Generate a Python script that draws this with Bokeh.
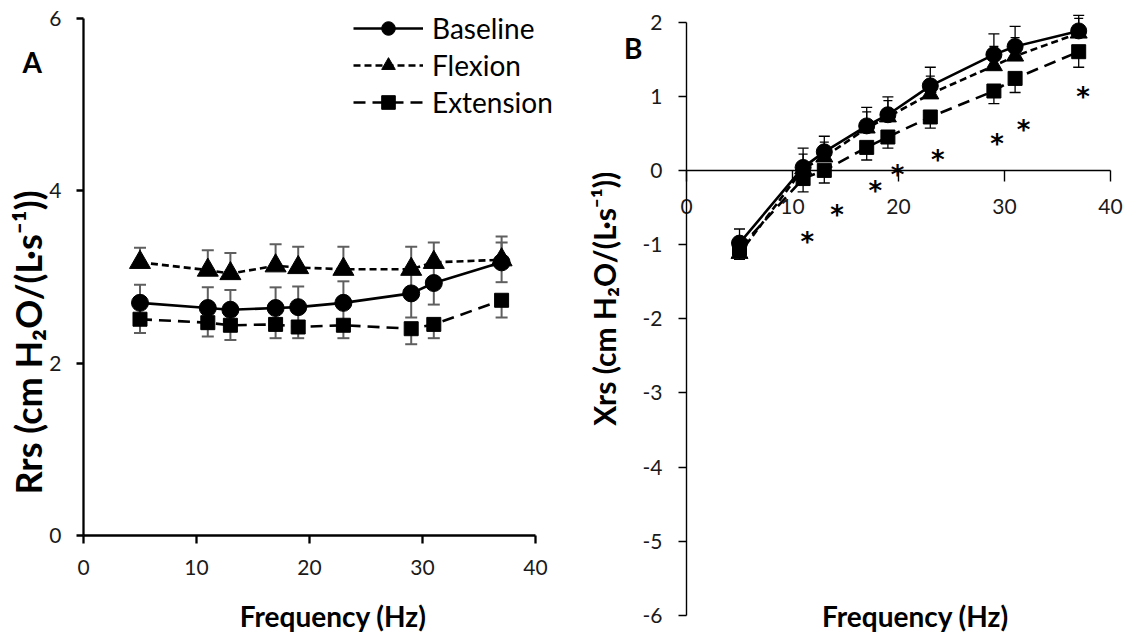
import math
from bokeh.plotting import figure
from bokeh.models import (Range1d, FixedTicker, Whisker, TeeHead, ColumnDataSource,
                          Legend, LegendItem, Label)
from bokeh.layouts import row
from bokeh.core.properties import value
from bokeh.embed import file_html
from bokeh.resources import INLINE

FONT = "Lato"

# ---------------- data ----------------
freq = [5, 11, 13, 17, 19, 23, 29, 31, 37]

# Panel A : Rrs
rrs_baseline = [2.70, 2.64, 2.62, 2.64, 2.65, 2.70, 2.81, 2.93, 3.17]
rrs_baseline_err = [0.21, 0.24, 0.23, 0.24, 0.24, 0.25, 0.28, 0.25, 0.23]
rrs_flexion = [3.17, 3.08, 3.04, 3.13, 3.11, 3.09, 3.09, 3.17, 3.20]
rrs_flexion_err = [0.17, 0.23, 0.24, 0.25, 0.24, 0.26, 0.26, 0.23, 0.27]
rrs_extension = [2.51, 2.47, 2.44, 2.45, 2.42, 2.44, 2.40, 2.45, 2.73]
rrs_extension_err = [0.16, 0.16, 0.17, 0.16, 0.13, 0.15, 0.18, 0.16, 0.20]

# Panel B : Xrs
xrs_baseline = [-0.98, 0.04, 0.25, 0.60, 0.75, 1.14, 1.56, 1.67, 1.88]
xrs_baseline_err = [0.19, 0.26, 0.21, 0.25, 0.24, 0.25, 0.28, 0.27, 0.21]
xrs_flexion = [-1.12, 0.02, 0.18, 0.57, 0.72, 1.03, 1.41, 1.54, 1.85]
xrs_flexion_err = [0.20, 0.20, 0.20, 0.22, 0.22, 0.24, 0.26, 0.25, 0.20]
xrs_extension = [-1.05, -0.11, 0.00, 0.31, 0.45, 0.72, 1.07, 1.24, 1.60]
xrs_extension_err = [0.15, 0.18, 0.17, 0.17, 0.15, 0.15, 0.17, 0.19, 0.21]

# significance asterisks (panel B)
star_x = [11.4, 14.2, 17.8, 19.9, 23.7, 29.3, 31.8, 37.4]
star_y = [-0.90, -0.53, -0.21, 0.01, 0.21, 0.42, 0.61, 1.05]

series_names = ["Baseline", "Flexion", "Extension"]
x_ticks = [0, 10, 20, 30, 40]
rrs_ticks = [0, 2, 4, 6]
xrs_ticks = [-6, -5, -4, -3, -2, -1, 0, 1, 2]

y_label_rrs = "Rrs (cm H\u2082O/(L\u00b7s\u207b\u00b9))"
y_label_xrs = "Xrs (cm H\u2082O/(L\u00b7s\u207b\u00b9))"
x_label = "Frequency (Hz)"

TICK_COLOR = "#1a1a1a"
H = 636


def base_style(p, lw, xb, yb, yticks):
    p.outline_line_color = None
    p.xgrid.visible = False
    p.ygrid.visible = False
    p.background_fill_color = "white"
    p.border_fill_color = "white"
    p.xaxis.ticker = FixedTicker(ticks=x_ticks)
    p.yaxis.ticker = FixedTicker(ticks=yticks)
    p.xaxis.major_label_overrides = {t: str(t) for t in x_ticks}
    p.yaxis.major_label_overrides = {t: str(t) for t in yticks}
    p.xaxis.fixed_location = 0
    p.yaxis.fixed_location = 0
    p.xaxis.bounds = xb
    p.yaxis.bounds = yb
    for ax in (p.xaxis, p.yaxis):
        ax.axis_line_color = "black"
        ax.axis_line_width = lw
        ax.major_tick_line_color = "black"
        ax.major_tick_line_width = lw
        ax.major_tick_in = 0
        ax.minor_tick_line_color = None
        ax.major_label_text_font = FONT
        ax.major_label_text_font_size = "21px"
        ax.major_label_text_color = TICK_COLOR


def whisker(p, x, lo, hi, color, lw, cap, up=True, down=True):
    src = ColumnDataSource(dict(x=x, lo=lo, hi=hi))
    w = Whisker(source=src, base="x", lower="lo", upper="hi", dimension="height",
                line_color=color, line_width=lw,
                upper_head=TeeHead(size=cap, line_color=color, line_width=lw) if up else None,
                lower_head=TeeHead(size=cap, line_color=color, line_width=lw) if down else None)
    p.add_layout(w)


def label(p, x, y, text, size, bold=True, angle=0.0, align="center"):
    p.add_layout(Label(x=x, y=y, text=text, angle=angle, text_align=align,
                       text_baseline="middle", text_font=FONT, text_font_size=size,
                       text_font_style="bold" if bold else "normal", text_color="black"))


# ---------------- Panel A ----------------
pA = figure(width=572, height=H, min_border=0,
            x_range=Range1d(-7.345, 43.274), y_range=Range1d(-1.172, 6.209),
            output_backend="svg", toolbar_location=None)
base_style(pA, 2.3, (0, 40), (0, 6), rrs_ticks)
pA.xaxis.major_tick_out = 8
pA.yaxis.major_tick_out = 7
pA.xaxis.major_label_standoff = 16
pA.yaxis.major_label_standoff = 15

ERR_A = "#5f5f5f"
whisker(pA, freq, [v - e for v, e in zip(rrs_baseline, rrs_baseline_err)],
        [v + e for v, e in zip(rrs_baseline, rrs_baseline_err)], ERR_A, 2, 12)
whisker(pA, freq, rrs_flexion, [v + e for v, e in zip(rrs_flexion, rrs_flexion_err)],
        ERR_A, 2, 12, up=True, down=False)
whisker(pA, freq, [v - e for v, e in zip(rrs_extension, rrs_extension_err)], rrs_extension,
        ERR_A, 2, 12, up=False, down=True)

lA_ext = pA.line(freq, rrs_extension, line_color="black", line_width=2.6, line_dash="12 7")
sA_ext = pA.scatter(freq, rrs_extension, marker="square", size=14, fill_color="black", line_color="black")
lA_flx = pA.line(freq, rrs_flexion, line_color="black", line_width=2.6, line_dash="7 4")
sA_flx = pA.scatter(freq, rrs_flexion, marker="triangle", size=21, fill_color="black", line_color="black")
lA_base = pA.line(freq, rrs_baseline, line_color="black", line_width=2.6)
sA_base = pA.scatter(freq, rrs_baseline, marker="circle", size=17, fill_color="black", line_color="black")

legend = Legend(items=[LegendItem(label=series_names[0], renderers=[lA_base, sA_base]),
                       LegendItem(label=series_names[1], renderers=[lA_flx, sA_flx]),
                       LegendItem(label=series_names[2], renderers=[lA_ext, sA_ext])],
                location=(353, 517), orientation="vertical",
                border_line_color=None, background_fill_alpha=0,
                padding=0, margin=0, spacing=3, glyph_width=70, glyph_height=34,
                label_height=34, label_standoff=9,
                label_text_font=FONT, label_text_font_size="28px", label_text_color="black")
pA.add_layout(legend)

label(pA, -4.95, 2.24, y_label_rrs, "36px", angle=math.pi / 2)
label(pA, 22.1, -0.93, x_label, "28px")
label(pA, -5.4, 5.49, "A", "28px", align="left")

# ---------------- Panel B ----------------
pB = figure(width=556, height=H, min_border=0,
            x_range=Range1d(-10.755, 41.698), y_range=Range1d(-6.283, 2.290),
            output_backend="svg", toolbar_location=None)
base_style(pB, 1.4, (0, 40), (-6, 2), xrs_ticks)
pB.xaxis.major_tick_out = 11
pB.yaxis.major_tick_out = 8
pB.xaxis.major_label_standoff = 18
pB.yaxis.major_label_standoff = 16

whisker(pB, freq, xrs_baseline, [v + e for v, e in zip(xrs_baseline, xrs_baseline_err)],
        "black", 1.3, 11, up=True, down=False)
whisker(pB, freq, xrs_flexion, [v + e for v, e in zip(xrs_flexion, xrs_flexion_err)],
        "black", 1.3, 9, up=True, down=False)
whisker(pB, freq, [v - e for v, e in zip(xrs_extension, xrs_extension_err)], xrs_extension,
        "black", 1.3, 11, up=False, down=True)

pB.line(freq, xrs_extension, line_color="black", line_width=2.6, line_dash="12 7")
pB.scatter(freq, xrs_extension, marker="square", size=14, fill_color="black", line_color="black")
pB.line(freq, xrs_flexion, line_color="black", line_width=2.6, line_dash="7 4")
pB.scatter(freq, xrs_flexion, marker="triangle", size=17, fill_color="black", line_color="black")
pB.line(freq, xrs_baseline, line_color="black", line_width=2.6)
pB.scatter(freq, xrs_baseline, marker="circle", size=16, fill_color="black", line_color="black")

pB.text(x=star_x, y=star_y, text=["*"] * len(star_x), text_font=value("DejaVu Sans"),
        text_font_size="26px", text_font_style="bold", text_color="black",
        text_align="center", text_baseline="middle", y_offset=5)

label(pB, -7.83, -1.73, y_label_xrs, "30px", angle=math.pi / 2)
label(pB, 21.6, -6.0, x_label, "28px")
label(pB, -5.9, 1.65, "B", "28px", align="left")

layout = row(pA, pB)
open("out.html", "w").write(file_html(layout, INLINE))
